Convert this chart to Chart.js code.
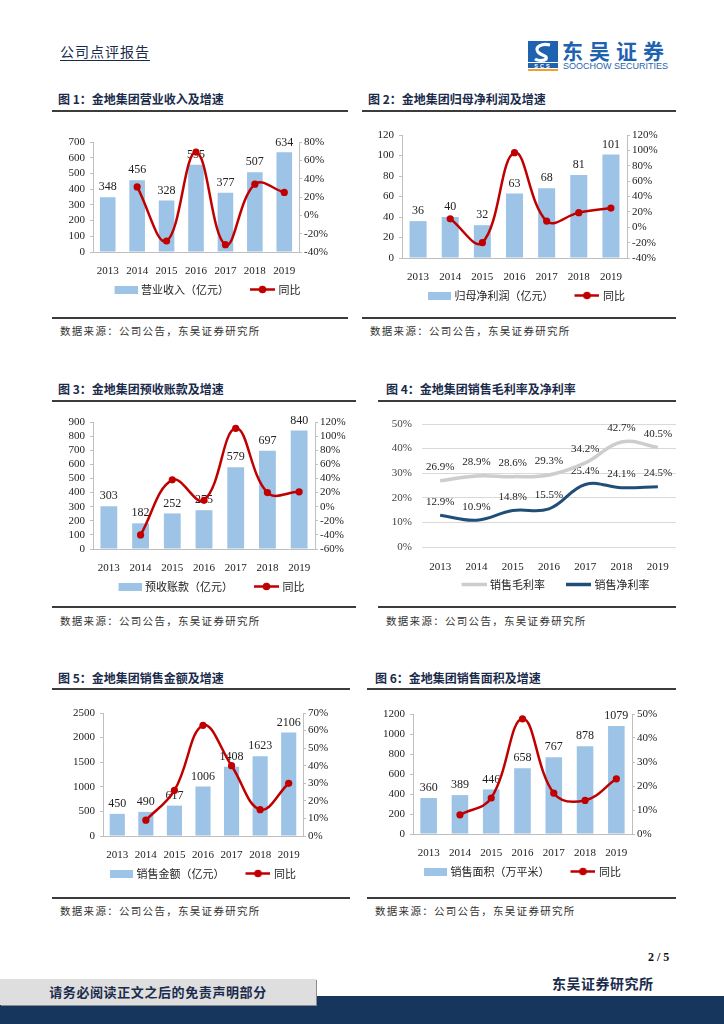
<!DOCTYPE html>
<html><head><meta charset="utf-8">
<script src="https://cdn.jsdelivr.net/npm/chart.js@4.4.0/dist/chart.umd.min.js"></script>
<style>
body{margin:0;width:724px;height:1024px;position:relative;background:#fff;overflow:hidden;font-family:"Noto Sans CJK SC",sans-serif;}
.abs{position:absolute;white-space:nowrap;}
.title{position:absolute;font-size:12px;font-weight:bold;color:#1a2b4c;white-space:nowrap;line-height:14px;}
.rule{position:absolute;height:2px;background:#3c3c3c;}
.src{position:absolute;font-size:10.5px;color:#333;letter-spacing:1.3px;white-space:nowrap;line-height:12px;}
canvas{position:absolute;}
</style></head><body>

<div class="abs" style="left:60px;top:43px;font-size:14px;color:#1a2b4c;letter-spacing:1px;border-bottom:1px solid #1a2b4c;line-height:17px;">公司点评报告</div>
<svg class="abs" style="left:528px;top:41px" width="30" height="30" viewBox="0 0 30 30">
  <rect x="0" y="0" width="30" height="21" fill="#1f63b0"/>
  <path d="M22 4 C14 2,6 6,10 11 C13 15,20 14,18 18 C16 20,10 20,7 18" stroke="#fff" stroke-width="3.2" fill="none"/>
  <rect x="0" y="22" width="30" height="5" fill="#1f63b0"/>
  <text x="15" y="26.5" font-size="5.5" font-family="Liberation Sans" font-weight="bold" fill="#fff" text-anchor="middle" letter-spacing="2">SCS</text>
  <rect x="0" y="28" width="30" height="2" fill="#f0a030"/>
</svg>
<div class="abs" style="left:562px;top:37px;font-size:21px;font-weight:bold;color:#1f63b0;letter-spacing:6px;line-height:26px;">东吴证券</div>
<div class="abs" style="left:563px;top:61px;font-size:9px;font-family:'Liberation Sans';color:#1f63b0;line-height:10px;">SOOCHOW SECURITIES</div>

<div class="title" style="left:58px;top:92px;">图 1：金地集团营业收入及增速</div>
<div class="rule" style="left:52px;top:110px;width:296px;"></div>
<div class="title" style="left:368px;top:92px;">图 2：金地集团归母净利润及增速</div>
<div class="rule" style="left:362px;top:110px;width:314px;"></div>
<div class="rule" style="left:52px;top:317px;width:296px;"></div>
<div class="rule" style="left:362px;top:317px;width:314px;"></div>
<div class="src" style="left:60px;top:325px;">数据来源：公司公告，东吴证券研究所</div>
<div class="src" style="left:370px;top:325px;">数据来源：公司公告，东吴证券研究所</div>

<div class="title" style="left:58px;top:382px;">图 3：金地集团预收账款及增速</div>
<div class="rule" style="left:52px;top:400px;width:304px;"></div>
<div class="title" style="left:386px;top:382px;">图 4：金地集团销售毛利率及净利率</div>
<div class="rule" style="left:378px;top:400px;width:298px;"></div>
<div class="rule" style="left:52px;top:606px;width:304px;"></div>
<div class="rule" style="left:378px;top:606px;width:298px;"></div>
<div class="src" style="left:60px;top:615px;">数据来源：公司公告，东吴证券研究所</div>
<div class="src" style="left:386px;top:615px;">数据来源：公司公告，东吴证券研究所</div>

<div class="title" style="left:58px;top:671px;">图 5：金地集团销售金额及增速</div>
<div class="rule" style="left:52px;top:688px;width:298px;"></div>
<div class="title" style="left:375px;top:671px;">图 6：金地集团销售面积及增速</div>
<div class="rule" style="left:367px;top:688px;width:309px;"></div>
<div class="rule" style="left:52px;top:897px;width:298px;"></div>
<div class="rule" style="left:367px;top:897px;width:309px;"></div>
<div class="src" style="left:60px;top:905px;">数据来源：公司公告，东吴证券研究所</div>
<div class="src" style="left:375px;top:905px;">数据来源：公司公告，东吴证券研究所</div>

<div class="abs" style="left:648px;top:949px;font-size:12px;font-weight:bold;font-family:'Liberation Serif';color:#111;line-height:16px;">2 / 5</div>
<div class="abs" style="left:0;top:996px;width:724px;height:28px;background:#17365d;"></div>
<div class="abs" style="left:0;top:979px;width:316px;height:26px;background:#dedede;box-shadow:1px 1px 0 #8a8a8a;"></div>
<div class="abs" style="left:0;top:979px;width:316px;height:26px;line-height:26px;text-align:center;font-size:13px;font-weight:bold;color:#1a2b4c;letter-spacing:0.6px;">请务必阅读正文之后的免责声明部分</div>
<div class="abs" style="left:552px;top:974px;font-size:14px;font-weight:bold;color:#1a2b4c;letter-spacing:0.5px;line-height:18px;">东吴证券研究所</div>

<canvas id="c1"></canvas>
<canvas id="c2"></canvas>
<canvas id="c3"></canvas>
<canvas id="c4"></canvas>
<canvas id="c5"></canvas>
<canvas id="c6"></canvas>

<script>
const years = ['2013','2014','2015','2016','2017','2018','2019'];
const revenue = [348,456,328,555,377,507,634];
const revenueYoY = [null,31,-28,69,-32,34,25];
const netProfit = [36,40,32,63,68,81,101];
const netProfitYoY = [null,11,-20,97,8,19,25];
const advances = [303,182,252,275,579,697,840];
const advancesYoY = [null,-40,38,9,111,20,21];
const grossMargin = [26.9,28.9,28.6,29.3,34.2,42.7,40.5];
const netMargin = [12.9,10.9,14.8,15.5,25.4,24.1,24.5];
const salesAmount = [450,490,617,1006,1408,1623,2106];
const salesAmountYoY = [null,9,26,63,40,15,30];
const salesArea = [360,389,446,658,767,878,1079];
const salesAreaYoY = [null,8,15,48,17,14,23];

const BAR = '#9dc3e6', RED = '#c00000', AX = '#bfbfbf';
const TICKFONT = {family:'Liberation Serif', size:11};
const LEGFONT = {family:'Noto Sans CJK SC', size:11};
const ICON_W = 40;

function icon(kind, color, lead){
  const c = document.createElement('canvas');
  const x = c.getContext('2d');
  c.width = ICON_W;
  if(kind==='bar'){ c.height=8; x.fillStyle=color; x.fillRect(lead,0,ICON_W-lead,8); }
  else if(kind==='dot'){ c.height=9; x.strokeStyle=color; x.lineWidth=2.5;
    x.beginPath(); x.moveTo(lead,4.5); x.lineTo(ICON_W,4.5); x.stroke();
    x.fillStyle=color; x.beginPath(); x.arc((lead+ICON_W)/2,4.5,3.8,0,Math.PI*2); x.fill(); }
  else { c.height=5; x.strokeStyle=color; x.lineWidth=3.5;
    x.beginPath(); x.moveTo(lead,2.5); x.lineTo(ICON_W,2.5); x.stroke(); }
  return c;
}

const valueLabels = {
  id:'valueLabels',
  afterDatasetDraw(chart, args){
    const ds = chart.data.datasets[args.index];
    if(!ds.showValues) return;
    const ctx = chart.ctx; ctx.save();
    ctx.font = (ds.valueSize||12)+'px "Liberation Serif"';
    ctx.fillStyle = '#222'; ctx.textAlign='center'; ctx.textBaseline='bottom';
    args.meta.data.forEach((el,i)=>{
      const v = ds.data[i]; if(v==null) return;
      ctx.fillText(ds.valueFormat? ds.valueFormat(v) : String(v), el.x, el.y - (ds.valueOffset||4));
    });
    ctx.restore();
  }
};

function legendOpts(fullSize){
  return {position:'bottom', fullSize:fullSize!==false, labels:{usePointStyle:true, pointStyleWidth:ICON_W-4, padding:8, font:LEGFONT, color:'#222',
    generateLabels(chart){
      return chart.data.datasets.map((ds,i)=>({text:ds.label, pointStyle:ds.legendIcon, datasetIndex:i,
        hidden:false, lineWidth:0, strokeStyle:'rgba(0,0,0,0)', fillStyle:'rgba(0,0,0,0)', fontColor:'#222'}));
    }}};
}

function place(id, g){
  const cv = document.getElementById(id);
  const w = g.leftW + g.plotW + g.rightW, h = 20 + g.plotH + 24 + 29;
  cv.width = w; cv.height = h;
  cv.style.left = (g.plotL - g.leftW)+'px'; cv.style.top = (g.plotT - 20)+'px';
  cv.style.width = w+'px'; cv.style.height = h+'px';
  return cv;
}

function combo(id, g, bars, yoy, barLabel, L, R){
  const cv = place(id, g);
  new Chart(cv, {
    data:{labels:years, datasets:[
      {type:'bar', label:barLabel, data:bars, backgroundColor:BAR, yAxisID:'y', order:2,
       categoryPercentage:1, barPercentage:0.53, showValues:true, legendIcon:icon('bar',BAR,17)},
      {type:'line', label:'同比', data:yoy, yAxisID:'y1', order:1, borderColor:RED, backgroundColor:RED,
       borderWidth:2.5, pointRadius:3.6, pointBackgroundColor:RED, pointBorderWidth:0, tension:0.4,
       legendIcon:icon('dot',RED,15)}
    ]},
    options:{responsive:false, animation:false, devicePixelRatio:1,
      layout:{padding:{top:20,left:0,right:0,bottom:0}},
      plugins:{legend:legendOpts(g.fullSize), tooltip:{enabled:false}},
      scales:{
        x:{grid:{display:false}, border:{display:true,color:AX},
           ticks:{font:TICKFONT,color:'#222',padding:5,maxRotation:0,autoSkip:false},
           afterFit(s){s.height=24;}},
        y:{position:'left', min:L[0], max:L[1], ticks:{stepSize:L[2],font:TICKFONT,color:'#222',padding:5,autoSkip:false,callback:v=>String(v)},
           grid:{drawOnChartArea:false,drawTicks:true,tickLength:3,color:AX}, border:{color:AX},
           afterFit(s){s.width=g.leftW;}},
        y1:{position:'right', min:R[0], max:R[1], ticks:{stepSize:R[2],font:TICKFONT,color:'#222',padding:2,autoSkip:false,callback:v=>v+'%'},
           grid:{drawOnChartArea:false,drawTicks:true,tickLength:3,color:AX}, border:{color:AX},
           afterFit(s){s.width=g.rightW;}}
      }},
    plugins:[valueLabels]
  });
}

combo('c1', {plotL:93, plotT:142, plotW:206, plotH:110, leftW:41, rightW:49}, revenue, revenueYoY, '营业收入（亿元）', [0,700,100], [-40,80,20]);
combo('c2', {plotL:402, plotT:135, plotW:225, plotH:123, leftW:40, rightW:49}, netProfit, netProfitYoY, '归母净利润（亿元）', [0,120,20], [-40,120,20]);
combo('c3', {plotL:93, plotT:422, plotW:222, plotH:127, leftW:41, rightW:36, fullSize:false}, advances, advancesYoY, '预收账款（亿元）', [0,900,100], [-60,120,20]);
combo('c5', {plotL:103, plotT:713, plotW:200, plotH:123, leftW:51, rightW:36}, salesAmount, salesAmountYoY, '销售金额（亿元）', [0,2500,500], [0,70,10]);
combo('c6', {plotL:413, plotT:714, plotW:219, plotH:120, leftW:51, rightW:36}, salesArea, salesAreaYoY, '销售面积（万平米）', [0,1200,200], [0,50,10]);

(function(){
  const g = {plotL:422, plotT:424, plotW:246, plotH:123, leftW:60, rightW:8};
  const cv = place('c4', g);
  const pct = v => v.toFixed(1)+'%';
  new Chart(cv, {
    type:'line',
    data:{labels:years, datasets:[
      {label:'销售毛利率', data:grossMargin, borderColor:'#cdcdcd', borderWidth:3.5, pointRadius:0, tension:0.4,
       showValues:true, valueFormat:pct, valueSize:11, valueOffset:8, legendIcon:icon('line','#cdcdcd',15)},
      {label:'销售净利率', data:netMargin, borderColor:'#1f4e79', borderWidth:3, pointRadius:0, tension:0.4,
       showValues:true, valueFormat:pct, valueSize:11, valueOffset:8, legendIcon:icon('line','#1f4e79',15)}
    ]},
    options:{responsive:false, animation:false, devicePixelRatio:1,
      layout:{padding:{top:20,left:0,right:0,bottom:0}},
      plugins:{legend:legendOpts(false), tooltip:{enabled:false}},
      scales:{
        x:{offset:true, grid:{display:false}, border:{display:false},
           ticks:{font:TICKFONT,color:'#222',padding:6,maxRotation:0,autoSkip:false},
           afterFit(s){s.height=24;}},
        y:{min:0, max:50, ticks:{stepSize:10,font:TICKFONT,color:'#444',padding:10,autoSkip:false,callback:v=>v+'%'},
           grid:{color:'#d9d9d9',drawTicks:false}, border:{display:false},
           afterFit(s){s.width=g.leftW;}}
      }},
    plugins:[valueLabels]
  });
})();
</script>
</body></html>
